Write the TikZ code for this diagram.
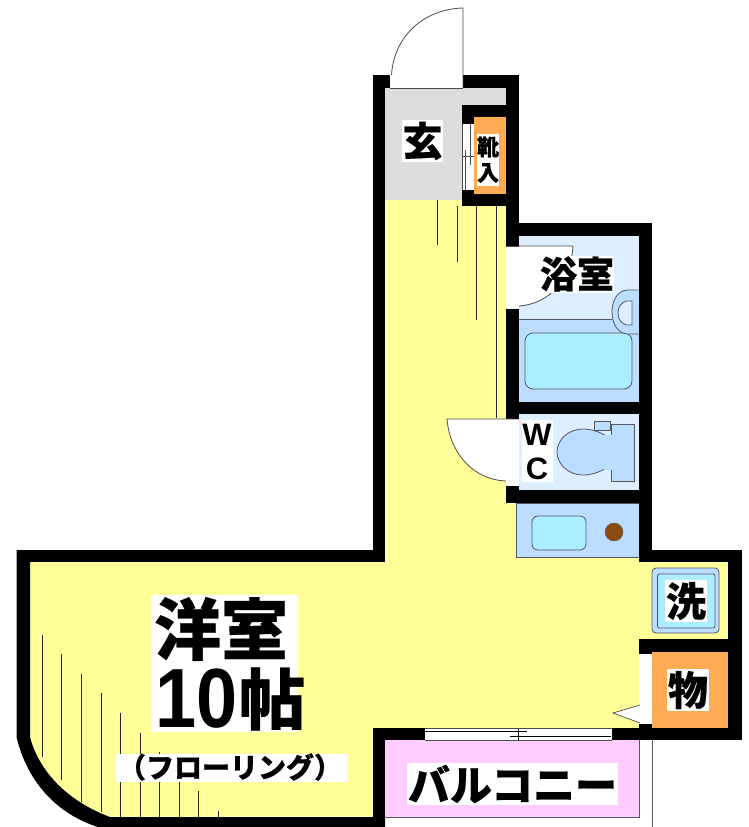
\documentclass[tikz,border=0pt]{standalone}
\usepackage{fontspec}
\newfontfamily\jp[BoldFeatures={FakeBold=0.5}]{Noto Sans CJK JP}
\newfontfamily\lat{Liberation Sans}
\definecolor{flooryellow}{HTML}{FFFF99}
\definecolor{entrygrey}{HTML}{DDDDDD}
\definecolor{closetorange}{HTML}{FFAA55}
\definecolor{balconypink}{HTML}{FFCCFF}
\definecolor{palebath}{HTML}{DDEEFF}
\definecolor{midbath}{HTML}{BBDDFF}
\definecolor{tubcyan}{HTML}{AAEEFF}
\definecolor{stovebrown}{HTML}{8B4A10}
\definecolor{thinline}{HTML}{555566}
\tikzset{
  wall/.style={fill=black,draw=none},
  fix/.style={draw=thinline,line width=0.8pt},
  hatch/.style={draw=black!85,line width=0.6pt},
  doorline/.style={draw=black!70,line width=0.8pt},
  lab/.style={fill=white,inner sep=0pt,align=center,font=\jp\bfseries},
}
\newcommand{\fs}[1]{\fontsize{#1}{#1}\selectfont}
\begin{document}
\begin{tikzpicture}[x=1pt,y=-1pt]
\useasboundingbox (0,0) rectangle (749,827);
\clip (0,0) rectangle (749,827);
\fill[white] (0,0) rectangle (749,827);
% floors
\fill[flooryellow] (385,200) -- (506,200) -- (506,503) -- (516,503) -- (516,557) -- (639,557) -- (639,562) -- (728,562) -- (728,639) -- (639,639) -- (639,728) -- (385,728) -- (385,817) -- (110,817) .. controls (72,803) and (40,775) .. (30,737) -- (30,562) -- (385,562) -- cycle;
\fill[entrygrey] (385,88) rectangle (506,200);
\fill[closetorange] (474,117) rectangle (506,194);
\fill[closetorange] (652,652) rectangle (728,728);
\fill[balconypink] (385,740) rectangle (639,817);
\draw[fix] (385,817) -- (639,817) -- (639,740);
\draw[draw=thinline,line width=1pt] (652.5,740) -- (652.5,827);
% bath
\fill[palebath] (519,236) rectangle (639,319);
\fill[midbath] (519,319) rectangle (639,402);
\draw[fix] (519,319) -- (612,319);
\draw[fix,fill=tubcyan,rounded corners=8pt] (525,333) rectangle (632,389);
\draw[fix] (632,333) -- (639,333);
\draw[fix,fill=midbath] (639,290) -- (628,290) .. controls (618,290) and (612,300) .. (612,312) .. controls (612,324) and (618,334) .. (628,334) -- (639,334);
\draw[fix,fill=palebath] (632,301) -- (627,301) .. controls (622,302) and (618,306) .. (618,313) .. controls (618,320) and (622,324) .. (627,325) -- (632,325) -- cycle;
% wc
\fill[palebath] (519,414) rectangle (639,490);
\draw[fix,fill=midbath] (594,421) rectangle (610,430);
\draw[fix,fill=midbath] (611,424) rectangle (634,481);
\draw[fix,fill=midbath] (611,439) .. controls (600,431) and (590,429) .. (583,429) .. controls (568,429) and (557,440) .. (557,452) .. controls (557,464) and (568,475) .. (583,475) .. controls (590,475) and (600,473) .. (611,465);
\fill[midbath] (604,435) rectangle (612,470);
% kitchen
\draw[fix,fill=midbath] (516,503) rectangle (639,557);
\draw[fix,fill=tubcyan,rounded corners=6pt] (532,516) rectangle (586,550);
\fill[stovebrown] (614,532) circle (9);
\draw[black!60,line width=0.5pt] (614,532) circle (9);
% walls
\fill[wall] (373,75) rectangle (519,88);
\fill[wall] (373,75) rectangle (385,562);
\fill[wall] (506,75) rectangle (519,246);
\fill[wall] (462,105) rectangle (506,117);
\fill[wall] (462,105) rectangle (474,124);
\fill[wall] (462,190) rectangle (474,206);
\fill[wall] (462,194) rectangle (506,206);
\fill[wall] (506,223) rectangle (652,236);
\fill[wall] (639,223) rectangle (652,562);
\fill[wall] (506,309) rectangle (519,419);
\fill[wall] (506,402) rectangle (652,414);
\fill[wall] (506,486) rectangle (519,503);
\fill[wall] (506,490) rectangle (652,503);
\fill[wall] (639,550) rectangle (742,562);
\fill[wall] (728,550) rectangle (742,740);
\fill[wall] (639,639) rectangle (742,652);
\fill[wall] (639,639) rectangle (652,654);
\fill[wall] (612,728) rectangle (742,740);
\fill[wall] (639,724) rectangle (652,740);
\fill[wall] (16.5,550) rectangle (385,562);
\fill[wall] (16.5,550) -- (30,550) -- (30,737) .. controls (40,775) and (72,803) .. (110,817) -- (385,817) -- (385,827) -- (98,827) .. controls (60,815) and (28,785) .. (16.5,737) -- cycle;
\fill[wall] (373,728) rectangle (425,740);
\fill[wall] (373,728) rectangle (385,827);
% entry door
\fill[white] (390,75) rectangle (463,88);
\draw[doorline] (390,88) -- (463,88);
\draw[doorline] (463,88) -- (463,8) .. controls (425,9) and (394,35) .. (391.5,75);
% closet door
\fill[white] (462,124) rectangle (474,190);
\draw[doorline,line width=0.6pt] (462,124) -- (462,190);
\draw[doorline,line width=0.6pt] (470.5,124) -- (470.5,165);
\draw[doorline,line width=0.6pt] (465,150) -- (465,190);
\draw[doorline,line width=0.6pt] (462,156) -- (474,156);
% bath door
\fill[white] (506,246) rectangle (519,309);
\fill[white] (519,246) -- (573,246) .. controls (571,280) and (549,304) .. (519,306) -- cycle;
\draw[doorline] (519,246) -- (573,246) (573,246) .. controls (571,280) and (549,304) .. (519,306);
\draw[doorline] (506,246) -- (519,246);
% wc door
\fill[white] (506,419) rectangle (519,486);
\fill[white] (447,419) -- (506,419) -- (506,481) .. controls (475,480) and (450,455) .. (447,419) -- cycle;
\draw[doorline] (506,481) .. controls (475,480) and (450,455) .. (447,419) -- (519,419);
% balcony door
\fill[white] (425,729) rectangle (612,740);
\draw[doorline] (425,728.5) -- (612,728.5);
\draw[black,line width=0.7pt] (425,731.5) -- (527,731.5);
\draw[black,line width=0.7pt] (510,736.5) -- (611,736.5);
\draw[doorline] (425,740) -- (612,740);
\draw[black,line width=0.7pt] (518,729) -- (518,740);
% storage door
\fill[white] (640,654) rectangle (652,724);
\draw[fill=white,draw=black!70,line width=0.7pt] (640,705) -- (613,713) -- (640,723);
% floor hatch
\foreach \x/\a/\b in {437/200/245,457/206/262,476/206/320,496/206/418,42/635/757,61/654/780,81/674/802,101/693/812,120/713/817,140/733/817,159/752/817,179/772/817,198/791/817,218/811/817}
  \draw[hatch] (\x,\a) -- (\x,\b);
% washer
\draw[draw=thinline,line width=0.8pt,fill=midbath,rounded corners=4pt] (652,568) rectangle (719,633);
\draw[draw=thinline,line width=0.8pt,fill=tubcyan,rounded corners=2pt] (657.5,574) rectangle (715,628);
% labels
\node[lab,minimum width=147pt,minimum height=137pt] (roombox) at (224.5,663.5) {};
\node[lab,fill=none,font=\jp\bfseries\fs{67}] (room) at (221,629) {洋室};
\node[lab,fill=none,anchor=west,font=\lat\bfseries\fs{84}] (ten) at (155,699) {\scalebox{.88}[1]{10}};
\node[lab,fill=none,anchor=west,font=\jp\bfseries\fs{66}] (cho) at (239,699) {帖};
\node[lab,minimum width=231pt,minimum height=28pt] (flbox) at (231.5,768) {};
\node[lab,fill=none,font=\jp\bfseries\fs{28}] (fl) at (230,767) {（フローリング）};
\node[lab,minimum width=211pt,minimum height=42pt] (balbox) at (512.5,784) {};
\node[lab,fill=none,font=\jp\bfseries\fs{42}] (bal) at (512.5,784) {バルコニー};
\node[lab,minimum width=41pt,minimum height=42pt,font=\jp\bfseries\fs{40}] (gen) at (422.5,141) {玄};
\node[lab,minimum width=22pt,minimum height=52pt] (kbox) at (488,160) {};
\node[lab,fill=none,font=\jp\bfseries\fs{22}] (ku) at (488,147) {靴};
\node[lab,fill=none,font=\jp\bfseries\fs{22}] (iri) at (488,173) {入};
\node[lab,minimum width=74pt,minimum height=37pt,font=\jp\bfseries\fs{37}] (bath) at (577,274) {浴室};
\node[lab,minimum width=31pt,minimum height=62pt] (wcbox) at (537.5,451) {};
\node[lab,fill=none,font=\lat\bfseries\fs{31}] (w) at (537,435) {W};
\node[lab,fill=none,font=\lat\bfseries\fs{31}] (c) at (537,469) {C};
\node[lab,minimum width=42pt,minimum height=42pt,font=\jp\bfseries\fs{40}] (sen) at (686,601) {洗};
\node[lab,minimum width=42pt,minimum height=42pt,font=\jp\bfseries\fs{40}] (mono) at (688,690) {物};
\end{tikzpicture}
\end{document}
